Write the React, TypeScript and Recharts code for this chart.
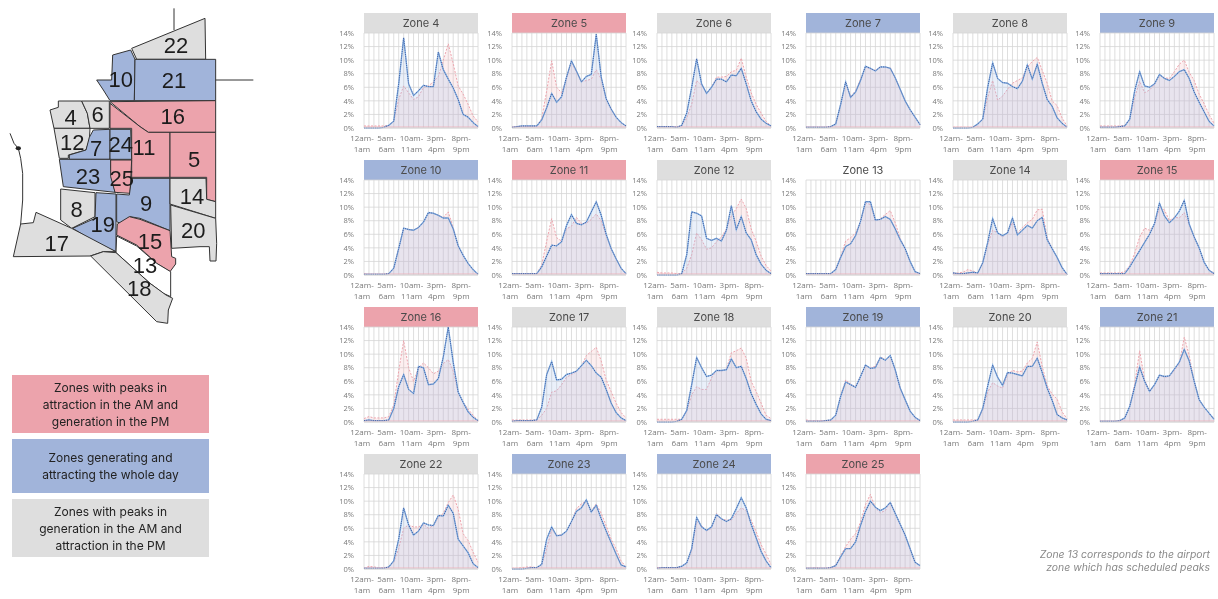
import React from "react";
import { ComposedChart, Area, Line, XAxis, YAxis, CartesianGrid, ReferenceLine } from "recharts";

const hours = [
  "12am-1am", "1am-2am", "2am-3am", "3am-4am", "4am-5am", "5am-6am", "6am-7am", "7am-8am",
  "8am-9am", "9am-10am", "10am-11am", "11am-12pm", "12pm-1pm", "1pm-2pm", "2pm-3pm", "3pm-4pm",
  "4pm-5pm", "5pm-6pm", "6pm-7pm", "7pm-8pm", "8pm-9pm", "9pm-10pm", "10pm-11pm", "11pm-12am",
];
const yTicks = [0, 2, 4, 6, 8, 10, 12, 14];

// share of trips per hour
const blue4 = [0, 0, 0, 0, 0.1, 0.4, 1, 6.5, 13.3, 6.5, 4.8, 5.5, 6.3, 6.1, 6.1, 11.2, 8.6, 7.2, 5.9, 4.2, 2, 1.6, 0.8, 0.2];
const red4 = [0.3, 0.3, 0.3, 0.3, 0.3, 0.4, 1, 4.2, 6.2, 5.2, 4.2, 4.6, 6, 6.2, 6.8, 7.6, 10, 12.4, 9.5, 6.2, 5, 3.5, 1.8, 0.9];
const blue5 = [0.1, 0.2, 0.3, 0.3, 0.3, 0.3, 1.2, 3, 5.1, 3.8, 4.6, 7.5, 9.9, 8.4, 6.8, 7.6, 7.9, 13.8, 7.5, 4.3, 2.8, 1.6, 0.8, 0.3];
const red5 = [0.1, 0.2, 0.3, 0.3, 0.3, 0.3, 1.4, 5.5, 9.9, 6, 5.2, 7.2, 9.8, 8.2, 6.8, 7, 7.2, 8.6, 7.2, 4.3, 2.8, 1.6, 0.8, 0.3];
const blue6 = [0.2, 0.2, 0.2, 0.2, 0.1, 0.4, 2.2, 6, 10.2, 6.5, 5.1, 6, 7.2, 7.2, 6.8, 7.8, 7.7, 8.8, 6.5, 4, 2.4, 1.3, 0.7, 0.3];
const red6 = [0.2, 0.2, 0.2, 0.2, 0.2, 0.3, 1.5, 3.5, 7, 6.3, 5.2, 6, 7.5, 7.5, 7.6, 8.3, 8.5, 10.3, 7.5, 5.2, 3.5, 2.2, 1, 0.3];
const blue7 = [0.1, 0.1, 0.1, 0.1, 0.1, 0.2, 0.6, 3.5, 6.8, 4.5, 5.3, 7, 9.1, 8.8, 8.4, 9, 9, 8.8, 7.4, 5.7, 4, 2.7, 1.6, 0.5];
const red7 = [0.1, 0.1, 0.1, 0.1, 0.1, 0.2, 0.6, 3.5, 6.6, 4.6, 5.5, 7.2, 9, 8.7, 8.5, 9, 8.9, 8.9, 7.4, 5.7, 4, 2.7, 1.6, 0.5];
const blue8 = [0, 0, 0, 0, 0.1, 0.6, 1.3, 6, 9.6, 7.3, 6.7, 6.6, 6.1, 5.8, 6.9, 9.3, 7.2, 9.4, 6.6, 4.2, 3.2, 1.5, 0.7, 0.1];
const red8 = [0.1, 0.1, 0.1, 0.1, 0.1, 0.6, 1.3, 4.5, 7, 4.1, 4.7, 5.7, 6.6, 7, 7.4, 9, 9.8, 10.4, 8.5, 6.6, 4, 3.3, 1.5, 0.3];
const blue9 = [0.1, 0.1, 0.1, 0.1, 0.2, 0.3, 1.3, 5.5, 8.3, 6.2, 6, 6.5, 7.9, 7.3, 7, 7.6, 8.3, 8.6, 7.3, 5.3, 3.8, 2.4, 1, 0.3];
const red9 = [0.3, 0.3, 0.3, 0.3, 0.3, 0.4, 1.3, 4.5, 6.9, 5.2, 5.6, 6.4, 7.8, 7.4, 7.3, 8.3, 9.4, 10, 8.2, 7, 5, 3.6, 2, 0.7];
const blue10 = [0.1, 0.1, 0.1, 0.1, 0.1, 0.2, 1, 3.9, 6.9, 6.7, 6.6, 7, 7.8, 9.2, 9.1, 8.8, 8.4, 8.4, 6.8, 4.3, 2.9, 1.7, 0.8, 0.1];
const red10 = [0.2, 0.1, 0.1, 0.1, 0.1, 0.2, 1, 3.9, 6.9, 6.7, 6.6, 7, 7.8, 9.2, 9.1, 8.8, 8.5, 9.3, 7, 4.3, 2.9, 1.7, 0.8, 0.1];
const blue11 = [0.2, 0.2, 0.2, 0.2, 0.2, 0.2, 1.2, 2.8, 4.4, 4.3, 4.9, 7.3, 8.9, 7.6, 7.4, 7.8, 9.3, 10.8, 8.8, 6, 3.9, 2.4, 1, 0.2];
const red11 = [0.2, 0.2, 0.2, 0.2, 0.2, 0.2, 1.5, 5, 8.3, 5.5, 5, 6.8, 7.2, 8.5, 7.6, 7.6, 8.2, 9, 8, 5.8, 3.9, 2.4, 1, 0.2];
const blue12 = [0, 0, 0, 0, 0, 0.2, 3, 9.3, 9.1, 8.7, 5.4, 5.1, 5.4, 5, 6.6, 10.2, 6.7, 8.6, 6.2, 5.2, 3, 1.6, 0.7, 0.2];
const red12 = [0.4, 0.3, 0.3, 0.3, 0.2, 0.2, 1, 3, 6.2, 5.2, 3.8, 4, 4.9, 5.6, 6.8, 8.7, 9.8, 11.2, 9.8, 6.8, 5, 2.8, 1.4, 0.6];
const blue13 = [0.2, 0.2, 0.2, 0.2, 0.2, 0.2, 0.8, 2.6, 4.2, 4.6, 5.8, 7.9, 10.8, 10.8, 8.1, 8.2, 8.6, 8.2, 6.8, 5.2, 3.9, 2, 0.5, 0.2];
const red13 = [0.2, 0.2, 0.2, 0.2, 0.2, 0.2, 0.9, 2.8, 5, 5.5, 6.2, 7.9, 10.6, 10.4, 8, 8.3, 8.9, 9.5, 7.7, 5.4, 3.9, 2, 0.5, 0.2];
const blue14 = [0.3, 0.2, 0.2, 0.3, 0.4, 0.3, 1.8, 4.8, 8.3, 6.2, 5.8, 6.2, 8.4, 5.9, 6.6, 7.3, 6.9, 8, 8.5, 5.2, 3.9, 2.6, 1.1, 0.1];
const red14 = [0.3, 0.3, 0.4, 0.8, 0.6, 0.3, 1.8, 4.5, 6.6, 6.2, 5.6, 6.3, 7.7, 6.2, 7, 7.7, 8.2, 9.6, 9.7, 5.5, 3.9, 2.6, 1.1, 0.1];
const blue15 = [0.2, 0.2, 0.2, 0.2, 0.2, 0.2, 1.2, 2.4, 3.6, 4.8, 6, 7.6, 10.6, 8.7, 7.7, 8.4, 9.4, 11, 7.5, 5.6, 4, 1.9, 0.7, 0.2];
const red15 = [0.3, 0.3, 0.3, 0.3, 0.3, 0.5, 1.4, 3.2, 5.6, 6.9, 6.6, 7.4, 10, 9.6, 8, 8.5, 8.4, 9.2, 7.4, 5.6, 4, 1.9, 0.7, 0.3];
const blue16 = [0.2, 0.3, 0.2, 0.2, 0.2, 0.3, 2, 5.2, 7, 4.8, 4.2, 8.2, 8, 5.5, 5.6, 6.4, 9.6, 14, 8.8, 4.4, 2.9, 1.5, 0.7, 0.2];
const red16 = [0.5, 0.8, 0.6, 0.6, 0.6, 0.8, 2.5, 7.5, 12, 8, 6, 8, 8.7, 8, 7.1, 7.5, 8.6, 9.2, 7.5, 4.4, 2.9, 1.9, 1, 0.2];
const blue17 = [0.1, 0.2, 0.2, 0.2, 0.2, 0.3, 2.2, 7, 8.9, 6.2, 6.3, 7, 7.2, 7.5, 8.3, 9.1, 8.3, 7.2, 6.6, 4.8, 2.8, 1.4, 0.6, 0.2];
const red17 = [0.3, 0.3, 0.3, 0.3, 0.3, 0.3, 1, 2, 4.4, 4.6, 5.5, 6.6, 7, 7.4, 8.2, 9.8, 10.4, 11, 9, 6.2, 4.5, 2.8, 1.4, 0.6];
const blue18 = [0, 0, 0, 0, 0.1, 0.4, 1.7, 5.5, 9.5, 8, 6.7, 6.9, 7.6, 7.6, 7.7, 9.3, 8, 8.2, 6.4, 4.2, 2.6, 1.2, 0.4, 0.2];
const red18 = [0.4, 0.4, 0.4, 0.4, 0.4, 0.4, 1.6, 4, 5.2, 4.8, 4.8, 6.5, 7.6, 7.5, 7.8, 10.2, 10.5, 10.9, 9.4, 6, 4.5, 2.8, 1, 0.5];
const blue19 = [0.1, 0.1, 0.1, 0.1, 0.2, 0.3, 1, 3.8, 5.9, 5.5, 5.1, 6.7, 8.4, 7.9, 8, 9.5, 9.1, 9.8, 7.7, 5, 3.3, 1.6, 0.7, 0.2];
const red19 = [0.3, 0.2, 0.2, 0.2, 0.2, 0.3, 1, 3.9, 6.2, 5.6, 5.2, 6.8, 8.3, 8, 8.2, 9.6, 9.2, 9.7, 7.7, 5, 3.3, 1.7, 0.6, 0.3];
const blue20 = [0, 0, 0, 0, 0.1, 0.3, 2, 5.3, 8.4, 6.6, 5.4, 7.3, 7.2, 7, 6.8, 8.2, 8.2, 9.4, 7.3, 5, 3.2, 1.1, 0.6, 0.3];
const red20 = [0.3, 0.3, 0.3, 0.3, 0.3, 0.3, 1.8, 4.4, 5.8, 5.3, 5, 7, 7.6, 7.4, 7.5, 8.7, 9.4, 11.8, 8.2, 5.4, 4.1, 3.4, 1.5, 0.5];
const blue21 = [0.1, 0.1, 0.1, 0.1, 0.2, 0.6, 2.3, 5.2, 8.1, 6, 4.5, 5.5, 6.9, 6.7, 6.8, 7.8, 8.8, 10.7, 9, 6, 3.3, 2.2, 1.3, 0.4];
const red21 = [0.1, 0.1, 0.1, 0.1, 0.2, 0.6, 2.3, 5.6, 10.5, 6.2, 4.6, 5.5, 6.9, 6.6, 6.7, 7.6, 8.6, 12.5, 9.8, 6, 3.3, 2.2, 1.3, 0.5];
const blue22 = [0.1, 0.1, 0.1, 0.1, 0.1, 0.3, 1.2, 4.4, 9, 6.5, 5, 5.6, 6.8, 6.5, 6.4, 7.9, 7.8, 9.4, 8.2, 4.4, 3.4, 2.4, 0.8, 0.2];
const red22 = [0.1, 0.4, 0.3, 0.2, 0.2, 0.3, 1, 3, 6, 6.5, 6.2, 6.2, 6.6, 6, 6.4, 7.6, 8.2, 9.8, 10.9, 8.8, 5.2, 4.2, 2.5, 1];
const blue23 = [0, 0, 0, 0.1, 0.2, 0.2, 0.7, 4.4, 6.2, 4.9, 5, 5.6, 7, 8.5, 9, 10.2, 8.4, 9.4, 7.4, 5.6, 3.9, 2.2, 0.6, 0.3];
const red23 = [0.1, 0.1, 0.2, 0.3, 0.3, 0.2, 0.6, 3, 5.8, 5, 5, 5.6, 7, 8.9, 9.6, 10, 8.6, 9.6, 8.2, 6.4, 4.4, 3, 1.2, 0.3];
const blue24 = [0.1, 0.2, 0.2, 0.2, 0.2, 0.4, 0.9, 3, 7.6, 6.2, 5.7, 6.2, 8, 7.4, 7, 7.4, 8.9, 10.5, 9, 6.6, 4.6, 2.6, 1.2, 0.2];
const red24 = [0.2, 0.2, 0.2, 0.2, 0.2, 0.4, 0.8, 2.8, 7, 6.4, 5.6, 6, 8.2, 7.4, 7.2, 7.2, 8.2, 9, 8.6, 7.2, 5.5, 3.6, 2.2, 0.7];
const blue25 = [0.1, 0.1, 0.1, 0.1, 0.1, 0.2, 0.5, 1.8, 3, 3, 4, 6.4, 8.5, 10, 9.1, 8.6, 9, 9.8, 8.2, 6.6, 5, 3, 1, 0.5];
const red25 = [0.1, 0.1, 0.2, 0.1, 0.1, 0.2, 0.6, 2, 3.3, 4.4, 5.2, 6.9, 9.5, 11, 9, 8.3, 8.6, 9.9, 8.2, 6.6, 5, 3, 1, 0.5];

const PINK = "#eca3ac";
const BLUE = "#a1b4da";
const GREY = "#dedede";

const zones = [
  { id: 4, head: GREY, blue: blue4, red: red4 },
  { id: 5, head: PINK, blue: blue5, red: red5 },
  { id: 6, head: GREY, blue: blue6, red: red6 },
  { id: 7, head: BLUE, blue: blue7, red: red7 },
  { id: 8, head: GREY, blue: blue8, red: red8 },
  { id: 9, head: BLUE, blue: blue9, red: red9 },
  { id: 10, head: BLUE, blue: blue10, red: red10 },
  { id: 11, head: PINK, blue: blue11, red: red11 },
  { id: 12, head: GREY, blue: blue12, red: red12 },
  { id: 13, head: "#ffffff", blue: blue13, red: red13 },
  { id: 14, head: GREY, blue: blue14, red: red14 },
  { id: 15, head: PINK, blue: blue15, red: red15 },
  { id: 16, head: PINK, blue: blue16, red: red16 },
  { id: 17, head: GREY, blue: blue17, red: red17 },
  { id: 18, head: GREY, blue: blue18, red: red18 },
  { id: 19, head: BLUE, blue: blue19, red: red19 },
  { id: 20, head: GREY, blue: blue20, red: red20 },
  { id: 21, head: BLUE, blue: blue21, red: red21 },
  { id: 22, head: GREY, blue: blue22, red: red22 },
  { id: 23, head: BLUE, blue: blue23, red: red23 },
  { id: 24, head: BLUE, blue: blue24, red: red24 },
  { id: 25, head: PINK, blue: blue25, red: red25 },
];

const colLeft = [364, 512, 657, 806, 953, 1100];
const rowTop = [13, 160, 307, 454];
const PLOT_W = 114;
const PLOT_H = 95;
const AXIS_W = 29;
const TOP_PAD = 6;

// map outlines, in 3x picture units
const mapShapes = [
  { fill: GREY, pts: "395,145 615,55 617,178 410,178" },
  { fill: BLUE, pts: "338,165 392,150 405,178 403,302 330,302 310,270 290,240 335,240" },
  { fill: BLUE, pts: "405,178 647,178 647,302 403,302" },
  { fill: PINK, pts: "330,305 647,302 647,397 445,397 420,380" },
  { fill: PINK, pts: "330,310 420,380 445,397 510,397 510,532 395,532 395,385 330,385" },
  { fill: PINK, pts: "510,397 647,397 647,605 620,598 620,532 510,532" },
  { fill: GREY, pts: "150,330 175,322 175,303 245,303 262,340 270,385 162,385" },
  { fill: GREY, pts: "245,303 328,303 328,385 270,385 262,340" },
  { fill: GREY, pts: "162,385 270,385 268,420 258,450 205,465 205,475 178,475" },
  { fill: BLUE, pts: "268,412 280,390 330,388 330,478 208,478 208,465 258,450" },
  { fill: BLUE, pts: "330,388 392,388 395,478 330,478" },
  { fill: BLUE, pts: "178,478 332,478 332,505 345,577 190,560" },
  { fill: PINK, pts: "332,480 395,480 390,580 345,577 332,530" },
  { fill: GREY, pts: "182,567 285,578 285,650 215,685 182,660" },
  { fill: BLUE, pts: "288,578 348,582 348,755 300,735 218,685 285,655" },
  { fill: BLUE, pts: "350,582 388,585 395,535 510,535 510,692 420,655 390,650 365,672 350,665" },
  { fill: PINK, pts: "352,672 388,650 420,658 510,692 515,770 527,775 527,792 510,815 470,790 410,735 350,705" },
  { fill: GREY, pts: "510,535 618,535 620,598 647,605 647,655 510,612" },
  { fill: GREY, pts: "512,615 647,655 650,730 648,783 630,783 628,740 600,740 515,745" },
  { fill: GREY, pts: "40,770 62,672 100,668 108,637 215,685 348,755 310,755 270,768" },
  { fill: "#ffffff", pts: "350,708 410,738 470,790 512,815 512,890 490,880 450,850 348,758" },
  { fill: GREY, pts: "310,755 348,758 450,850 498,885 518,895 505,930 503,970 470,965 272,768" },
];
const mapLines = [
  "522,25 522,90",
  "647,240 760,240",
  "30,400 42,430 55,445 62,475 68,520 68,600 62,672",
];
const mapLabels = [
  { t: "22", x: 528, y: 160 }, { t: "10", x: 362, y: 262 }, { t: "21", x: 522, y: 265 },
  { t: "16", x: 518, y: 371 }, { t: "4", x: 212, y: 374 }, { t: "6", x: 293, y: 366 },
  { t: "12", x: 217, y: 451 }, { t: "7", x: 288, y: 467 }, { t: "24", x: 362, y: 457 },
  { t: "11", x: 432, y: 466 }, { t: "5", x: 582, y: 500 }, { t: "23", x: 264, y: 553 },
  { t: "25", x: 365, y: 557 }, { t: "14", x: 576, y: 612 }, { t: "8", x: 230, y: 650 },
  { t: "9", x: 438, y: 633 }, { t: "19", x: 308, y: 696 }, { t: "20", x: 580, y: 715 },
  { t: "15", x: 450, y: 747 }, { t: "17", x: 170, y: 752 }, { t: "13", x: 435, y: 820 },
  { t: "18", x: 418, y: 888 },
];

const legendItems = [
  { fill: PINK, top: 375, height: 58, text: ["Zones with peaks in", "attraction in the AM and", "generation in the PM"] },
  { fill: BLUE, top: 439, height: 54, text: ["Zones generating and", "attracting the whole day"] },
  { fill: GREY, top: 499, height: 58, text: ["Zones with peaks in", "generation in the AM and", "attraction in the PM"] },
];

const HourTick = ({ x, y, index, payload }: any) => {
  if (index % 5 !== 0) return null;
  const [from, to] = String(payload.value).split("-");
  return (
    <text x={x - 2} fill="#7a7a7a" fontSize={8} fontFamily="Open Sans" textAnchor="middle">
      <tspan x={x - 2} y={y + 5}>{from}-</tspan>
      <tspan x={x - 2} y={y + 16}>{to}</tspan>
    </text>
  );
};

const ZoneChart = ({ zone, left, top }: any) => {
  const data = hours.map((hour, i) => ({ hour, blue: zone.blue[i], red: zone.red[i] }));
  return (
    <>
      <div
        style={{
          position: "absolute", left, top, width: PLOT_W, height: 20, background: zone.head,
          textAlign: "center", font: "11px/20px Inter", color: "#4a4a4a",
        }}
      >
        Zone {zone.id}
      </div>
      <div style={{ position: "absolute", left: left - AXIS_W, top: top + 20 - TOP_PAD }}>
        <ComposedChart
          width={AXIS_W + PLOT_W + 3}
          height={PLOT_H + TOP_PAD + 30}
          data={data}
          margin={{ top: TOP_PAD, right: 3, bottom: 0, left: 0 }}
        >
          <CartesianGrid stroke="#d6d6d6" strokeWidth={0.8} />
          <XAxis
            dataKey="hour"
            interval={0}
            scale="point"
            height={30}
            tick={<HourTick />}
            tickLine={false}
            axisLine={{ stroke: "#d8d8d8" }}
          />
          <YAxis
            domain={[0, 14]}
            ticks={yTicks}
            interval={0}
            width={AXIS_W}
            tickFormatter={(v: number) => `${v}%`}
            tick={{ fontSize: 7.5, fill: "#7a7a7a", fontFamily: "Open Sans" }}
            tickMargin={4}
            tickLine={false}
            axisLine={false}
          />
          <ReferenceLine y={0.15} stroke="#efb0b6" strokeWidth={0.8} />
          <Area dataKey="red" type="linear" stroke="#eda5ae" strokeWidth={1} strokeDasharray="2 1.5" fill="#f2a6ae" fillOpacity={0.18} dot={false} isAnimationActive={false} />
          <Area dataKey="blue" type="linear" stroke="#8db8e6" strokeWidth={1.4} fill="#a6c0ea" fillOpacity={0.24} dot={false} isAnimationActive={false} />
          <Line dataKey="blue" type="linear" stroke="#4563a8" strokeWidth={1} strokeDasharray="1.2 1" dot={false} isAnimationActive={false} />
        </ComposedChart>
      </div>
    </>
  );
};

const ZoneMap = () => (
  <svg width={260} height={340} viewBox="0 0 780 1020" style={{ position: "absolute", left: 0, top: 0 }}>
    {mapShapes.map((s, i) => (
      <polygon key={i} points={s.pts} fill={s.fill} stroke="#333" strokeWidth={3} strokeLinejoin="round" />
    ))}
    {mapLines.map((p, i) => (
      <polyline key={i} points={p} fill="none" stroke="#333" strokeWidth={3} />
    ))}
    <ellipse cx={55} cy={445} rx={8} ry={6} fill="#222" />
    {mapLabels.map((l) => (
      <text key={l.t} x={l.x} y={l.y} fontSize={66} textAnchor="middle" fontFamily="Liberation Sans" fill="#1c1c1c">
        {l.t}
      </text>
    ))}
  </svg>
);

export default function App() {
  return (
    <div style={{ position: "absolute", left: 0, top: 0, width: 1218, height: 599, overflow: "hidden", background: "#fff", filter: "blur(0.4px)" }}>
      <ZoneMap />
      {legendItems.map((item) => (
        <div
          key={item.top}
          style={{
            position: "absolute", left: 12, top: item.top, width: 197, height: item.height, background: item.fill,
            display: "flex", flexDirection: "column", justifyContent: "center", textAlign: "center",
            font: "12px/17px Inter", color: "#222",
          }}
        >
          {item.text.map((line) => <div key={line}>{line}</div>)}
        </div>
      ))}
      {zones.map((zone, i) => (
        <ZoneChart key={zone.id} zone={zone} left={colLeft[i % 6]} top={rowTop[Math.floor(i / 6)]} />
      ))}
      <div
        style={{
          position: "absolute", right: 8, top: 548, width: 240, textAlign: "right",
          font: "italic 10.4px/13px Inter", color: "#8a8a8a",
        }}
      >
        <div>Zone 13 corresponds to the airport</div>
        <div>zone which has scheduled peaks</div>
      </div>
    </div>
  );
}
